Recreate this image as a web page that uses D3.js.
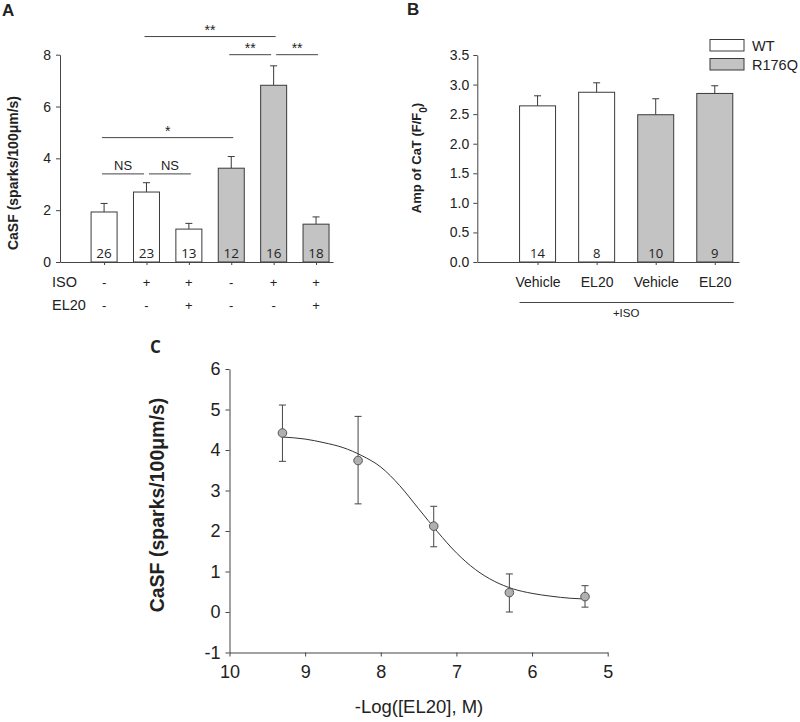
<!DOCTYPE html>
<html><head><meta charset="utf-8">
<script src="https://cdn.jsdelivr.net/npm/d3@7"></script>
<style>
body{margin:0;background:#fff;}
text{font-family:"Liberation Sans",Arial,sans-serif;fill:#222;}
</style></head>
<body><svg id="chart" width="800" height="722"></svg>
<script>
// ---------- Panel A data ----------
const aGroups = ["WT","WT","WT","R176Q","R176Q","R176Q"];
const aMeans  = [1.93, 2.70, 1.27, 3.62, 6.82, 1.46];
const aErrs   = [0.33, 0.36, 0.22, 0.45, 0.75, 0.28];
const aN      = [26, 23, 13, 12, 16, 18];
const aISO    = ["-","+","+","-","+","+"];
const aEL20   = ["-","-","+","-","-","+"];
const aTicks  = [0, 2, 4, 6, 8];
const sigFrom  = [1, 3, 4, 0, 0, 1];
const sigTo    = [4, 4, 5, 3, 1, 2];
const sigLevel = [8.7, 8.0, 8.0, 4.8, 3.4, 3.4];
const sigLabel = ["**","**","**","*","NS","NS"];

// ---------- Panel B data ----------
const bCats   = ["Vehicle","EL20","Vehicle","EL20"];
const bGroups = ["WT","WT","R176Q","R176Q"];
const bMeans  = [2.64, 2.87, 2.49, 2.85];
const bErrs   = [0.17, 0.16, 0.27, 0.13];
const bN      = [14, 8, 10, 9];
const bTicks  = [0, 0.5, 1.0, 1.5, 2.0, 2.5, 3.0, 3.5];

// ---------- Panel C data ----------
const cX     = [9.3, 8.3, 7.3, 6.3, 5.3];
const cY     = [4.42, 3.74, 2.12, 0.48, 0.38];
const cHi    = [5.11, 4.83, 2.61, 0.94, 0.65];
const cLo    = [3.72, 2.67, 1.61, 0.00, 0.12];
const fitX   = [9.3, 9.0, 8.75, 8.5, 8.25, 8.0, 7.75, 7.5, 7.25, 7.0, 6.75, 6.5, 6.25, 6.0, 5.75, 5.5, 5.3];
const fitY   = [4.32, 4.27, 4.18, 4.06, 3.86, 3.58, 3.12, 2.55, 1.98, 1.46, 1.05, 0.76, 0.57, 0.46, 0.39, 0.34, 0.32];
const cXTicks = [10, 9, 8, 7, 6, 5];
const cYTicks = [-1, 0, 1, 2, 3, 4, 5, 6];

const groupFill = {"WT":"#ffffff","R176Q":"#c3c3c3"};
const stroke = "#3a3a3a";
const svg = d3.select("#chart");

function styleAxis(g, fs){
  g.selectAll("path,line").attr("stroke","#444").attr("stroke-width",1);
  g.selectAll("text").attr("fill","#222").style("font-size",fs+"px")
    .style("font-family",'"Liberation Sans",Arial,sans-serif');
}

// ================= Panel A =================
(function(){
  const x = d3.scaleLinear().domain([-1.04, 5.4]).range([60, 333]);
  const y = d3.scaleLinear().domain([0, 8]).range([262, 54.7]);
  const bw = 26;
  const g = svg.append("g");
  g.append("text").attr("x",2).attr("y",16).text("A")
    .style("font-weight","bold").style("font-size","17px");

  aMeans.forEach((v,i)=>{
    g.append("line").attr("x1",x(i)).attr("x2",x(i)).attr("y1",y(v)).attr("y2",y(v+aErrs[i]))
      .attr("stroke",stroke);
    g.append("line").attr("x1",x(i)-3.5).attr("x2",x(i)+3.5).attr("y1",y(v+aErrs[i])).attr("y2",y(v+aErrs[i]))
      .attr("stroke",stroke);
    g.append("rect").attr("x",x(i)-bw/2).attr("width",bw).attr("y",y(v)).attr("height",y(0)-y(v))
      .attr("fill",groupFill[aGroups[i]]).attr("stroke",stroke).attr("stroke-width",1);
    g.append("text").attr("x",x(i)).attr("y",y(0)-4).attr("text-anchor","middle")
      .style("font-size","13.5px").style("font-family",'"Open Sans","DejaVu Sans",sans-serif').text(aN[i]);
  });

  const ya = g.append("g").attr("transform","translate(60,0)")
    .call(d3.axisLeft(y).tickValues(aTicks).tickSize(4).tickSizeOuter(0).tickFormat(d=>String(d)));
  styleAxis(ya, 14);
  ya.selectAll("text").attr("x",-9);
  const xa = g.append("g").attr("transform","translate(0,262)")
    .call(d3.axisBottom(x).tickValues(d3.range(6)).tickSize(3).tickSizeOuter(0).tickFormat(""));
  styleAxis(xa, 12);

  g.append("text").attr("transform","translate(18,173) rotate(-90)").attr("text-anchor","middle")
    .style("font-weight","bold").style("font-size","14px").text("CaSF (sparks/100\u03bcm/s)");

  g.append("text").attr("x",52).attr("y",287).style("font-size","14.5px").text("ISO");
  g.append("text").attr("x",52).attr("y",310).style("font-size","14.5px").text("EL20");
  aISO.forEach((s,i)=>g.append("text").attr("x",x(i)).attr("y",287).attr("text-anchor","middle")
    .style("font-size","13px").text(s));
  aEL20.forEach((s,i)=>g.append("text").attr("x",x(i)).attr("y",310).attr("text-anchor","middle")
    .style("font-size","13px").text(s));

  sigLabel.forEach((lab,k)=>{
    let x1 = x(sigFrom[k]) - 2, x2 = x(sigTo[k]) + 2;
    sigLabel.forEach((_,j)=>{
      if(j!==k && sigLevel[j]===sigLevel[k]){
        if(sigTo[j]===sigFrom[k]) x1 = x(sigFrom[k]) + 2.5;
        if(sigFrom[j]===sigTo[k]) x2 = x(sigTo[k]) - 2.5;
      }
    });
    const yy = y(sigLevel[k]);
    g.append("line").attr("x1",x1).attr("x2",x2).attr("y1",yy).attr("y2",yy).attr("stroke","#444");
    g.append("text").attr("x",(x1+x2)/2).attr("y", lab==="NS" ? yy-4 : yy-2)
      .attr("text-anchor","middle").style("font-size", lab==="NS" ? "13px" : "14px").text(lab);
  });
})();

// ================= Panel B =================
(function(){
  const x = d3.scaleLinear().domain([-1.02, 3.41]).range([477.3, 739]);
  const y = d3.scaleLinear().domain([0, 3.5]).range([262, 55]);
  const bw = 36;
  const g = svg.append("g");
  g.append("text").attr("x",407).attr("y",15).text("B")
    .style("font-weight","bold").style("font-size","17px");

  bMeans.forEach((v,i)=>{
    g.append("line").attr("x1",x(i)).attr("x2",x(i)).attr("y1",y(v)).attr("y2",y(v+bErrs[i])).attr("stroke",stroke);
    g.append("line").attr("x1",x(i)-3.5).attr("x2",x(i)+3.5).attr("y1",y(v+bErrs[i])).attr("y2",y(v+bErrs[i])).attr("stroke",stroke);
    g.append("rect").attr("x",x(i)-bw/2).attr("width",bw).attr("y",y(v)).attr("height",y(0)-y(v))
      .attr("fill",groupFill[bGroups[i]]).attr("stroke",stroke);
    g.append("text").attr("x",x(i)).attr("y",y(0)-4).attr("text-anchor","middle")
      .style("font-size","13px").style("font-family",'"Open Sans","DejaVu Sans",sans-serif').text(bN[i]);
  });

  const ya = g.append("g").attr("transform","translate(477.3,0)")
    .call(d3.axisLeft(y).tickValues(bTicks).tickSize(4).tickSizeOuter(0).tickFormat(d3.format(".1f")));
  styleAxis(ya, 14);
  ya.selectAll("text").attr("x",-8);
  const xa = g.append("g").attr("transform","translate(0,262)")
    .call(d3.axisBottom(x).tickValues(d3.range(4)).tickSize(3).tickSizeOuter(0).tickFormat(i=>bCats[i]));
  styleAxis(xa, 14);
  xa.selectAll("text").attr("dy","0").attr("y",25);

  const yl = g.append("text").attr("transform","translate(421,158) rotate(-90)").attr("text-anchor","middle")
    .style("font-weight","bold").style("font-size","13px");
  yl.append("tspan").text("Amp of CaT (F/F");
  yl.append("tspan").attr("baseline-shift","sub").style("font-size","10px").text("0");
  yl.append("tspan").text(")");

  g.append("line").attr("x1",x(0)-18).attr("x2",x(3)+19).attr("y1",302.5).attr("y2",302.5).attr("stroke","#444");
  g.append("text").attr("x",(x(0)+x(3))/2).attr("y",317).attr("text-anchor","middle")
    .style("font-size","11.5px").text("+ISO");

  const lg = [["WT",39.5],["R176Q",58.5]];
  lg.forEach(([name,yy])=>{
    g.append("rect").attr("x",710).attr("y",yy).attr("width",34).attr("height",11.5)
      .attr("fill",groupFill[name]).attr("stroke",stroke);
    g.append("text").attr("x",752).attr("y",yy+11).style("font-size","14.5px").text(name);
  });
})();

// ================= Panel C =================
(function(){
  const x = d3.scaleLinear().domain([10, 5]).range([229.5, 607.7]);
  const y = d3.scaleLinear().domain([-1, 6]).range([652.5, 369]);
  const g = svg.append("g");
  g.append("text").attr("x",150).attr("y",353).text("C")
    .style("font-weight","bold").style("font-size","17px")
    .style("font-family",'"Open Sans","DejaVu Sans",sans-serif');

  const ya = g.append("g").attr("transform","translate(229.5,0)")
    .call(d3.axisLeft(y).tickValues(cYTicks).tickSize(4).tickSizeOuter(0).tickFormat(d=>String(d)));
  styleAxis(ya, 18);
  ya.selectAll("text").attr("x",-9);
  const xa = g.append("g").attr("transform","translate(0,652.5)")
    .call(d3.axisBottom(x).tickValues(cXTicks).tickSize(4).tickSizeOuter(0).tickFormat(d=>String(d)));
  styleAxis(xa, 18);
  xa.selectAll("text").attr("y",13);

  g.append("text").attr("transform","translate(164,505) rotate(-90)").attr("text-anchor","middle")
    .style("font-weight","bold").style("font-size","19.5px").text("CaSF (sparks/100\u03bcm/s)");
  g.append("text").attr("x",419).attr("y",713).attr("text-anchor","middle")
    .style("font-size","18.5px").text("-Log([EL20], M)");

  const line = d3.line().x((d,i)=>x(fitX[i])).y((d,i)=>y(fitY[i])).curve(d3.curveMonotoneX);
  g.append("path").datum(fitX).attr("d",line).attr("fill","none").attr("stroke","#333").attr("stroke-width",1);

  cX.forEach((xv,i)=>{
    g.append("line").attr("x1",x(xv)).attr("x2",x(xv)).attr("y1",y(cLo[i])).attr("y2",y(cHi[i])).attr("stroke","#444");
    [cLo[i],cHi[i]].forEach(e=>g.append("line").attr("x1",x(xv)-3.5).attr("x2",x(xv)+3.5)
      .attr("y1",y(e)).attr("y2",y(e)).attr("stroke","#444"));
    g.append("circle").attr("cx",x(xv)).attr("cy",y(cY[i])).attr("r",4.3)
      .attr("fill","#b0b0b0").attr("stroke","#555").attr("stroke-width",1);
  });
})();
</script></body></html>
